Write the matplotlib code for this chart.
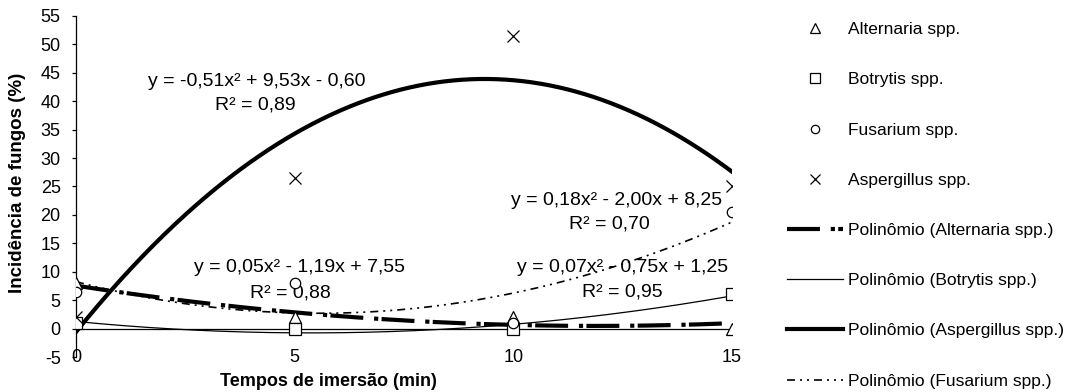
import numpy as np
import matplotlib.pyplot as plt

# Data
tempos = [0, 5, 10, 15]
alternaria = [8, 2, 2, 0]
botrytis = [1, 0, 0, 6]
fusarium = [6.5, 8, 1, 20.5]
aspergillus = [2, 26.5, 51.5, 25]

# Trendline coefficients (from the equations shown on the chart)
coef_alternaria = [0.05, -1.19, 7.55]
coef_botrytis = [0.07, -0.75, 1.25]
coef_aspergillus = [-0.51, 9.53, -0.60]
coef_fusarium = [0.18, -2.00, 8.25]

eq_alternaria = ["y = 0,05x² - 1,19x + 7,55", "R² = 0,88"]
eq_botrytis = ["y = 0,07x² - 0,75x + 1,25", "R² = 0,95"]
eq_aspergillus = ["y = -0,51x² + 9,53x - 0,60", "R² = 0,89"]
eq_fusarium = ["y = 0,18x² - 2,00x + 8,25", "R² = 0,70"]

plt.rcParams['font.family'] = ['Liberation Sans', 'DejaVu Sans']
plt.rcParams['axes.unicode_minus'] = False
fs_tick = 13
fs_eq = 14
fs_leg = 12.5
fs_lab = 13.5

fig = plt.figure(figsize=(10.92, 3.92), dpi=100)
ax = fig.add_axes([76 / 1092, 1 - 357 / 392, 656 / 1092, 341 / 392])

# Marker series
mk = dict(linestyle='none', color='black', mfc='white', mec='black', mew=0.9, zorder=4)
ax.plot(tempos, alternaria, marker='^', markersize=9, label='Alternaria spp.', **mk)
ax.plot(tempos, botrytis, marker='s', markersize=8.5, label='Botrytis spp.', **mk)
ax.plot(tempos, fusarium, marker='o', markersize=7.5, label='Fusarium spp.', **mk)
ax.plot(tempos, aspergillus, marker='x', markersize=9, label='Aspergillus spp.', **mk)

# Polynomial trendlines
xs = np.linspace(0, 15, 300)
ax.plot(xs, np.polyval(coef_alternaria, xs), color='black', lw=3,
        linestyle=(0, (7.9, 2.6, 1.0, 0.8)), label='Polinômio (Alternaria spp.)', zorder=3)
ax.plot(xs, np.polyval(coef_botrytis, xs), color='black', lw=0.9,
        label='Polinômio (Botrytis spp.)', zorder=3)
ax.plot(xs, np.polyval(coef_aspergillus, xs), color='black', lw=3,
        label='Polinômio (Aspergillus spp.)', zorder=3)
ax.plot(xs, np.polyval(coef_fusarium, xs), color='black', lw=1.2,
        linestyle=(0, (4.8, 3, 1.2, 3, 1.2, 3)), label='Polinômio (Fusarium spp.)', zorder=3)

# Equation labels
ax.text(4.14, 43.4, eq_aspergillus[0], ha='center', va='center', fontsize=fs_eq)
ax.text(4.10, 39.3, eq_aspergillus[1], ha='center', va='center', fontsize=fs_eq)
ax.text(12.35, 22.6, eq_fusarium[0], ha='center', va='center', fontsize=fs_eq)
ax.text(12.2, 18.4, eq_fusarium[1], ha='center', va='center', fontsize=fs_eq)
ax.text(5.12, 10.7, eq_alternaria[0], ha='center', va='center', fontsize=fs_eq)
ax.text(4.9, 6.3, eq_alternaria[1], ha='center', va='center', fontsize=fs_eq)
ax.text(12.5, 10.7, eq_botrytis[0], ha='center', va='center', fontsize=fs_eq)
ax.text(12.5, 6.4, eq_botrytis[1], ha='center', va='center', fontsize=fs_eq)

# Axes styling
ax.set_xlim(0, 15)
ax.set_ylim(-5, 55)
ax.set_xticks(tempos)
ax.set_yticks(range(-5, 60, 5))
ax.axhline(0, color='black', lw=0.9, zorder=2)
for s in ['top', 'right', 'bottom']:
    ax.spines[s].set_visible(False)
ax.spines['left'].set_linewidth(0.9)
ax.tick_params(axis='y', length=3, width=0.9, pad=8, labelsize=fs_tick)
ax.tick_params(axis='x', length=0, pad=0, labelsize=fs_tick)
for lbl in ax.get_xticklabels():
    lbl.set_va('center')

ax.set_xlabel('Tempos de imersão (min)', fontsize=13, fontweight='bold')
ax.xaxis.set_label_coords((328 - 76) / 656, -24 / 341)
ax.xaxis.label.set_va('center')

# y label, cut off at the top like the original (clipped by a small helper axes)
lab_ax = fig.add_axes([0, 0, 40 / 1092, 1 - 71 / 392])
lab_ax.axis('off')
lab_ax.text(0.43, 99 / 321, 'Incidência de fungos (%)', rotation=90,
            ha='center', va='bottom', fontsize=fs_lab, fontweight='bold',
            transform=lab_ax.transAxes, clip_on=True)

# Legend
leg = fig.legend(loc='upper left', bbox_to_anchor=(787 / 1092, 1 - 22 / 392),
                 frameon=False, fontsize=fs_leg, handlelength=3.2, handletextpad=0.3,
                 labelspacing=2.02, borderpad=0, borderaxespad=0, markerscale=0.8)

fig.savefig('out.png', dpi=100)
